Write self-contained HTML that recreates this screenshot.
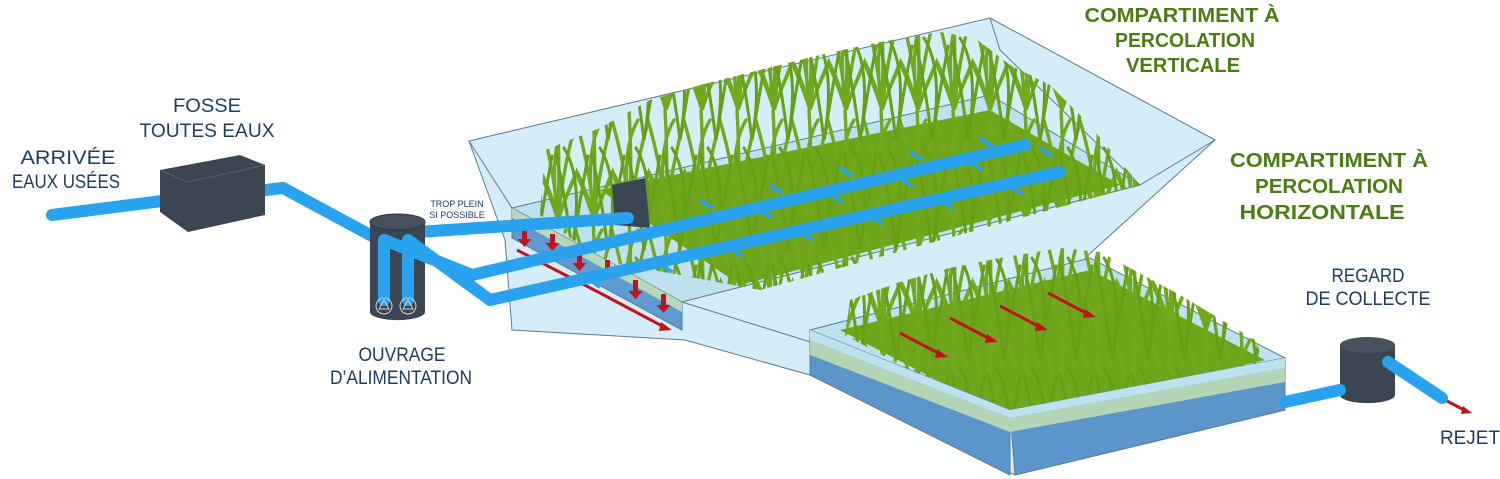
<!DOCTYPE html>
<html><head><meta charset="utf-8"><style>
body{margin:0;background:#fff;}
svg{display:block}
.t{font-family:"Liberation Sans",sans-serif;fill:#1d3c63;font-size:19px;text-anchor:middle}
.g{font-family:"Liberation Sans",sans-serif;fill:#4b7d12;font-size:20.5px;font-weight:bold;text-anchor:middle}
</style></head><body>
<svg width="1500" height="479" viewBox="0 0 1500 479" xmlns="http://www.w3.org/2000/svg">
<defs>
<pattern id="grass" width="36" height="110" patternUnits="userSpaceOnUse">
<g fill="none" stroke="#72a81e" stroke-width="3.4" stroke-linecap="round">
<path d="M18 110 Q14 55 -2 4"/><path d="M18 110 Q24 50 38 6"/><path d="M18 110 Q4 66 -18 28"/>
<path d="M18 110 Q32 66 54 28"/><path d="M18 110 Q20 50 17 0"/><path d="M18 110 Q10 75 -6 50"/>
<path d="M18 110 Q28 78 44 52"/><path d="M18 110 Q8 40 26 10"/>
</g></pattern>
<pattern id="grass2" x="14" y="30" width="36" height="110" patternUnits="userSpaceOnUse">
<g fill="none" stroke="#67a016" stroke-width="3" stroke-linecap="round">
<path d="M18 110 Q12 60 2 14"/><path d="M18 110 Q26 60 34 16"/><path d="M18 110 Q30 40 10 8"/>
</g></pattern>
<clipPath id="cu"><polygon points="540,215 545,150 600,128 650,100 700,85 760,70 820,55 880,42 940,32 975,38 1010,65 1050,85 1085,120 1140,185 760,290 600,260"/></clipPath>
<clipPath id="cl"><polygon points="845,335 850,300 900,282 950,268 1000,258 1060,248 1100,252 1180,295 1255,340 1270,375 1010,425"/></clipPath>
</defs>

<polygon points="469,141 990,18 1215,140 1085,258 1285,358 1285,410 1015,475 810,375 685,340 512,330 505,240" fill="#d5edf9" stroke="#5a7d95" stroke-width="1"/>
<polyline points="469,141 512,208 682,302 820,345" fill="none" stroke="#5a7d95" stroke-width="1"/>
<polyline points="990,18 1000,50 1140,185 1215,140" fill="none" stroke="#5a7d95" stroke-width="1"/>

<polygon points="512,208 990,95 1140,185 682,302" fill="#bfe0ee" stroke="#5a7d95" stroke-width="1"/>
<polygon points="600,190 990,110 1120,185 740,285" fill="#6ea51b"/>
<rect x="470" y="20" width="700" height="290" fill="url(#grass)" clip-path="url(#cu)"/>
<rect x="470" y="20" width="700" height="290" fill="url(#grass2)" clip-path="url(#cu)"/>
<polygon points="512,208 682,302 682,330 512,238" fill="#5f9bd0" stroke="#5a7d95" stroke-width="1"/>
<polygon points="512,208 682,302 682,312 512,218" fill="#cfe6b6" opacity=".8"/>
<polygon points="612,185 645,178 650,228 615,225" fill="#3b4652"/>

<polygon points="810,330 1090,258 1285,358 1010,425" fill="#bfe0ee" stroke="#5a7d95" stroke-width="1"/>
<polygon points="840,330 1090,270 1265,360 1010,418" fill="#6ea51b"/>
<rect x="800" y="240" width="490" height="190" fill="url(#grass)" clip-path="url(#cl)"/>
<rect x="800" y="240" width="490" height="190" fill="url(#grass2)" clip-path="url(#cl)"/>
<polygon points="810,330 1010,410 1010,475 810,375" fill="#5b95c9" stroke="#5a7d95" stroke-width="1"/>
<polygon points="1010,410 1285,358 1285,410 1015,475" fill="#5b95c9" stroke="#5a7d95" stroke-width="1"/>
<polygon points="810,340 1010,418 1010,432 810,355" fill="#c9e3b0" opacity=".8"/>
<polygon points="1010,418 1285,368 1285,382 1010,432" fill="#c9e3b0" opacity=".8"/>
<polygon points="810,330 1010,410 1285,358 1285,368 1010,418 810,340" fill="#bfe0ee"/>

<g stroke="#c0141c" stroke-width="3" fill="#c0141c">
<line x1="900" y1="333" x2="940" y2="354"/><line x1="950" y1="318" x2="990" y2="339"/>
<line x1="1000" y1="306" x2="1040" y2="327"/><line x1="1048" y1="293" x2="1088" y2="314"/>
<line x1="517" y1="250" x2="600" y2="293"/><line x1="600" y1="293" x2="664" y2="327"/>
<line x1="1445" y1="400" x2="1466" y2="411"/>
</g>
<g fill="#c0141c">
<path d="M937 349l11 8-13 1z M987 334l11 8-13 1z M1037 322l11 8-13 1z M1085 309l11 8-13 1z M661 322l11 8-13 1z M1463 406l9 7-11 1z"/>
<path d="M522 230h5v9h4.5l-7 8-7-8h4.5z"/><path d="M550 234h5v9h4.5l-7 8-7-8h4.5z"/>
<path d="M577 252h5v11h4.5l-7 8-7-8h4.5z"/><path d="M605 260h5v11h4.5l-7 8-7-8h4.5z"/>
<path d="M633 280h5v11h4.5l-7 8-7-8h4.5z"/><path d="M661 294h5v11h4.5l-7 8-7-8h4.5z"/>
</g>

<g fill="none" stroke="#29a3ee" stroke-width="12" stroke-linecap="round" stroke-linejoin="round">
<path d="M52 215 L170 200"/>
<path d="M265 190 L283 188 L372 236"/>
<path d="M418 232 L628 218"/>
</g>
<polygon points="160,170 240,155 265,165 265,215 188,232 160,212" fill="#3b4652"/>
<polyline points="160,170 188,182 265,165 M188,182 L188,232" fill="none" stroke="#55606b" stroke-width="1"/>
<path d="M370 222 L370 312 A27 8 0 0 0 425 312 L425 222 Z" fill="#3b4652"/>
<ellipse cx="397.5" cy="222" rx="27.5" ry="8" fill="#47525e" stroke="#2d3640"/>
<g fill="none" stroke="#29a3ee" stroke-width="12" stroke-linejoin="round" stroke-linecap="round">
<path d="M384 300 L384 240 L472 275 L1025 145"/>
<path d="M408 300 L408 240 L490 300 L1060 172"/>
</g>
<g fill="none" stroke="#29a3ee" stroke-width="4">
<path d="M700 200l12 8M770 185l12 8M840 168l12 8M910 152l12 8M980 138l12 8M760 210l12 8M830 194l12 8M900 178l12 8M970 162l12 8M1040 148l12 8"/>
<path d="M590 280l10 7M660 264l12 8M730 248l12 8M800 232l12 8M870 216l12 8M940 200l12 8M1010 186l12 8"/>
</g>
<g fill="none" stroke="#d0d5da" stroke-width="1">
<circle cx="384" cy="306" r="8"/><circle cx="408" cy="306" r="8"/>
<path d="M384 300l-5 9h10z M408 300l-5 9h10z"/>
</g>
<path d="M1340 345 L1340 395 A27 8 0 0 0 1395 395 L1395 345 Z" fill="#3b4652"/>
<ellipse cx="1367.5" cy="345" rx="27.5" ry="8" fill="#47525e"/>
<g fill="none" stroke="#29a3ee" stroke-width="12" stroke-linecap="round">
<path d="M1285 402 L1340 390"/><path d="M1388 362 L1442 398"/>
</g>

<text class="t" x="68" y="164" textLength="95" lengthAdjust="spacingAndGlyphs">ARRIVÉE</text>
<text class="t" x="66" y="188" textLength="108" lengthAdjust="spacingAndGlyphs">EAUX USÉES</text>
<text class="t" x="207" y="112" textLength="68" lengthAdjust="spacingAndGlyphs">FOSSE</text>
<text class="t" x="207" y="137" textLength="135" lengthAdjust="spacingAndGlyphs">TOUTES EAUX</text>
<text class="t" x="402" y="361" textLength="87" lengthAdjust="spacingAndGlyphs">OUVRAGE</text>
<text class="t" x="401" y="384" textLength="142" lengthAdjust="spacingAndGlyphs">D’ALIMENTATION</text>
<text class="t" x="1368" y="282" textLength="73" lengthAdjust="spacingAndGlyphs">REGARD</text>
<text class="t" x="1368" y="305" textLength="125" lengthAdjust="spacingAndGlyphs">DE COLLECTE</text>
<text class="t" x="1470" y="444" textLength="60" lengthAdjust="spacingAndGlyphs">REJET</text>
<text x="457" y="207" style="font-family:'Liberation Sans',sans-serif;font-size:9px;fill:#1d3c63;text-anchor:middle">TROP PLEIN</text>
<text x="457" y="218" style="font-family:'Liberation Sans',sans-serif;font-size:9px;fill:#1d3c63;text-anchor:middle">SI POSSIBLE</text>
<text class="g" x="1182" y="22" textLength="195" lengthAdjust="spacingAndGlyphs">COMPARTIMENT À</text>
<text class="g" x="1185" y="47" textLength="140" lengthAdjust="spacingAndGlyphs">PERCOLATION</text>
<text class="g" x="1183" y="72" textLength="114" lengthAdjust="spacingAndGlyphs">VERTICALE</text>
<text class="g" x="1329" y="167" textLength="198" lengthAdjust="spacingAndGlyphs">COMPARTIMENT À</text>
<text class="g" x="1329" y="193" textLength="148" lengthAdjust="spacingAndGlyphs">PERCOLATION</text>
<text class="g" x="1322" y="219" textLength="165" lengthAdjust="spacingAndGlyphs">HORIZONTALE</text>
</svg>
</body></html>
